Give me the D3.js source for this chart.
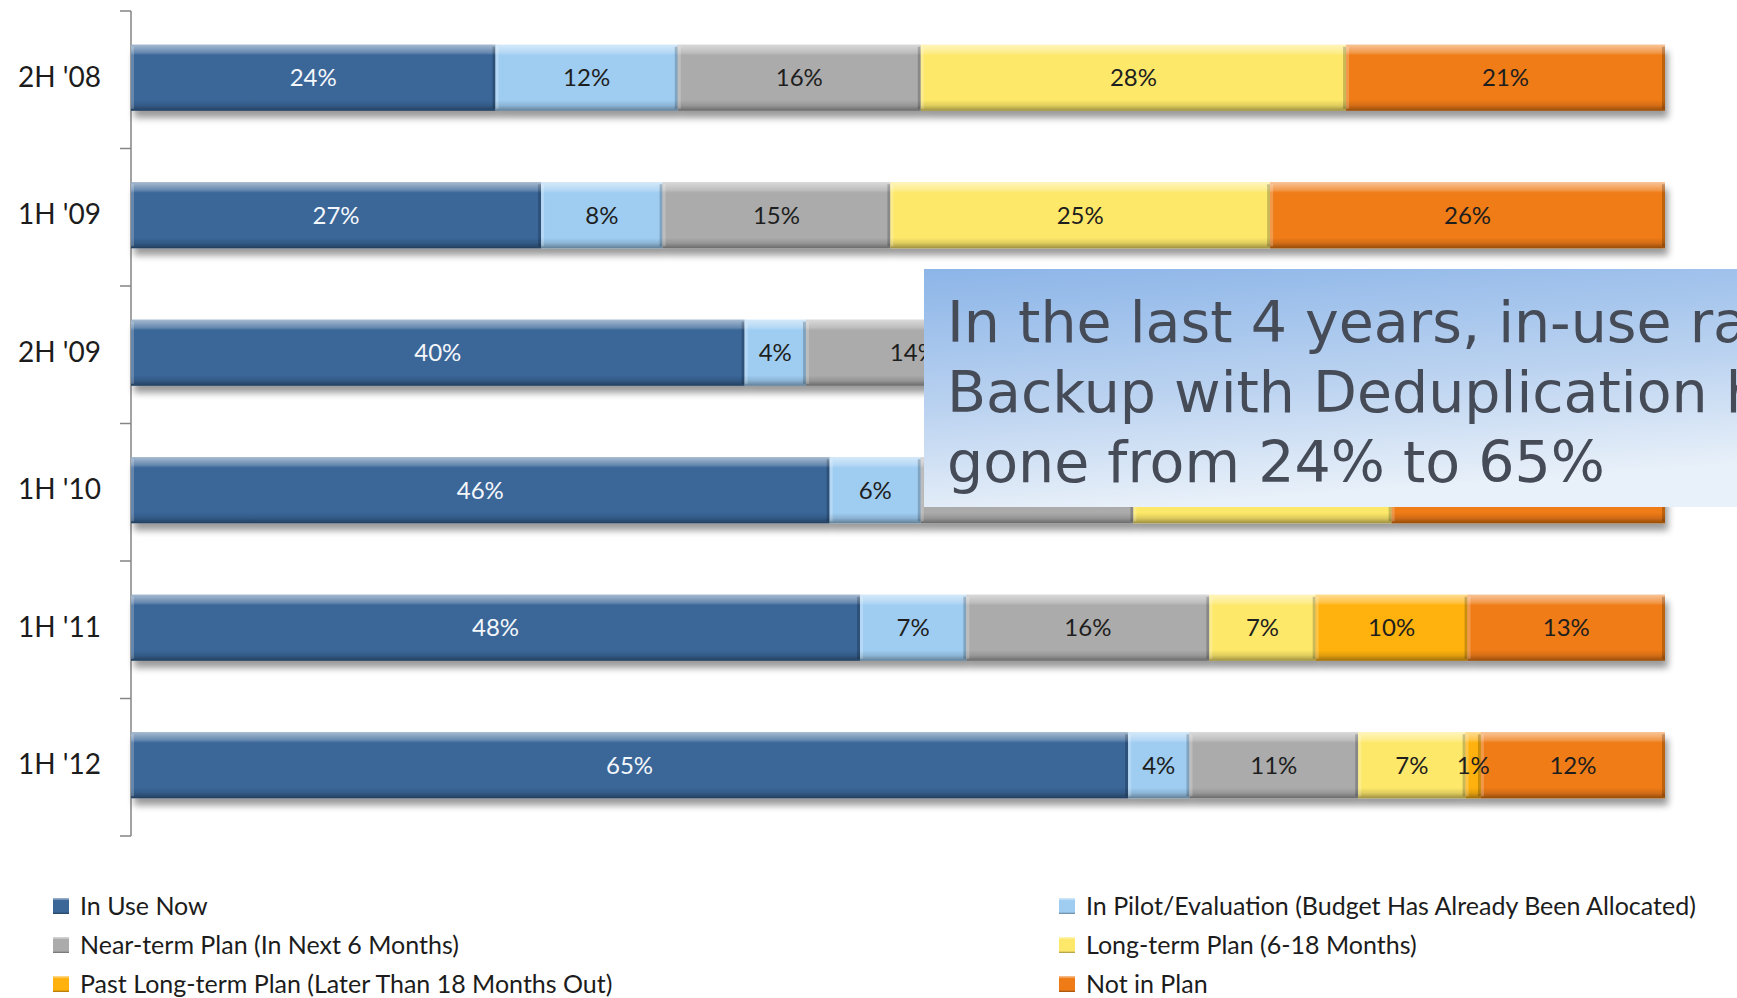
<!DOCTYPE html>
<html>
<head>
<meta charset="utf-8">
<script src="https://cdn.jsdelivr.net/npm/d3@7"></script>
<style>
  html, body { margin: 0; padding: 0; background: #ffffff; overflow: hidden; }
  svg { display: block; }
</style>
</head>
<body>
<svg id="chart" width="1737" height="998"></svg>
<script>
// Survey periods (top to bottom)
const categories = ["2H '08", "1H '09", "2H '09", "1H '10", "1H '11", "1H '12"];

// Series names, in stacking order
const seriesNames = [
  "In Use Now",
  "In Pilot/Evaluation (Budget Has Already Been Allocated)",
  "Near-term Plan (In Next 6 Months)",
  "Long-term Plan (6-18 Months)",
  "Past Long-term Plan (Later Than 18 Months Out)",
  "Not in Plan"
];

// Percent of respondents per period
const inUseNow     = [24, 27, 40, 46, 48, 65];
const inPilot      = [12,  8,  4,  6,  7,  4];
const nearTerm     = [16, 15, 14, 14, 16, 11];
const longTerm     = [28, 25, 21, 17,  7,  7];
const pastLongTerm = [ 0,  0,  0,  0, 10,  1];
const notInPlan    = [21, 26, 21, 18, 13, 12];

const seriesColors = ["#3a6698", "#9fcdf2", "#ababab", "#fde86a", "#ffb20e", "#ef7b16"];
const labelColors  = ["#f4f7fb", "#1e1e1e", "#1e1e1e", "#1e1e1e", "#1e1e1e", "#1e1e1e"];

const calloutLines = [
  "In the last 4 years, in-use rate of",
  "Backup with Deduplication has",
  "gone from 24% to 65%"
];

// ---- build table for the stack layout
const seriesValues = [inUseNow, inPilot, nearTerm, longTerm, pastLongTerm, notInPlan];
const rows = categories.map((c, i) => {
  const r = { category: c };
  seriesNames.forEach((s, k) => { r[s] = seriesValues[k][i]; });
  return r;
});

const stacked = d3.stack()
  .keys(seriesNames)
  .offset(d3.stackOffsetExpand)(rows);

const svg = d3.select("#chart");
const defs = svg.append("defs");

// soft shadow under each bar
const shadow = defs.append("filter").attr("id", "barShadow")
  .attr("x", "-5%").attr("y", "-30%").attr("width", "110%").attr("height", "180%");
shadow.append("feGaussianBlur").attr("in", "SourceAlpha").attr("stdDeviation", 3.5).attr("result", "blur");
shadow.append("feOffset").attr("in", "blur").attr("dx", 3).attr("dy", 7).attr("result", "off");
shadow.append("feComponentTransfer").attr("in", "off").attr("result", "soft")
  .append("feFuncA").attr("type", "linear").attr("slope", 0.4);
const merge = shadow.append("feMerge");
merge.append("feMergeNode").attr("in", "soft");
merge.append("feMergeNode").attr("in", "SourceGraphic");

// vertical bevel shading
const vb = defs.append("linearGradient").attr("id", "vBevel")
  .attr("x1", 0).attr("y1", 0).attr("x2", 0).attr("y2", 1);
[
  [0, "#ffffff", 0.55], [0.12, "#ffffff", 0.22], [0.16, "#ffffff", 0.0],
  [0.84, "#000000", 0.0], [0.92, "#000000", 0.12], [1, "#000000", 0.38]
].forEach(([o, c, a]) => vb.append("stop").attr("offset", o).attr("stop-color", c).attr("stop-opacity", a));

// callout background
const cg = defs.append("linearGradient").attr("id", "calloutFill")
  .attr("x1", 0).attr("y1", 0).attr("x2", 0.25).attr("y2", 1);
[[0, "#8cb5e8"], [0.55, "#bad2f0"], [1, "#e8f0f9"]]
  .forEach(([o, c]) => cg.append("stop").attr("offset", o).attr("stop-color", c));

// callout placement
const calloutBox = { x: 924, y: 269, width: 840, height: 238 };

// ---- scales
const x = d3.scaleLinear().domain([0, 1]).range([131, 1665]);
const y = d3.scaleBand().domain(categories).range([9, 834]).paddingInner(0.52).paddingOuter(0.26);

// ---- axis (category labels at band centres, tick marks between bands)
const axisG = svg.append("g").attr("transform", `translate(${x(0)},0)`);
axisG.call(d3.axisLeft(y).tickSize(0).tickPadding(30))
  .call(g => g.select(".domain").remove())
  .selectAll("text")
  .attr("font-family", "Lato, 'Open Sans', sans-serif")
  .attr("font-size", 28)
  .attr("fill", "#1c1c1c");

const bounds = d3.range(categories.length + 1).map(i => y.range()[0] + i * y.step());
axisG.append("line")
  .attr("x1", 0).attr("x2", 0)
  .attr("y1", bounds[0] + 2).attr("y2", bounds[bounds.length - 1] + 2)
  .attr("stroke", "#858585").attr("stroke-width", 1.5);
axisG.selectAll("line.tick-mark").data(bounds).join("line")
  .attr("class", "tick-mark")
  .attr("x1", -11).attr("x2", 0)
  .attr("y1", d => d + 2).attr("y2", d => d + 2)
  .attr("stroke", "#858585").attr("stroke-width", 1.5);

// ---- bars
const barRows = svg.append("g").selectAll("g.bar")
  .data(categories)
  .join("g")
  .attr("class", "bar")
  .attr("filter", "url(#barShadow)");

barRows.each(function (cat, i) {
  const g = d3.select(this);
  stacked.forEach((layer, k) => {
    const d = layer[i];
    const x0 = x(d[0]), x1 = x(d[1]);
    const w = x1 - x0;
    if (w <= 0) return;
    const top = y(cat), h = y.bandwidth();
    g.append("rect").attr("x", x0).attr("y", top).attr("width", w).attr("height", h)
      .attr("fill", seriesColors[k]);
    g.append("rect").attr("x", x0).attr("y", top).attr("width", w).attr("height", h)
      .attr("fill", "url(#vBevel)");
    // side bevels
    const edge = Math.min(3, w / 3);
    g.append("rect").attr("x", x0).attr("y", top + 2).attr("width", edge).attr("height", h - 4)
      .attr("fill", "#ffffff").attr("opacity", 0.22);
    g.append("rect").attr("x", x1 - edge).attr("y", top + 2).attr("width", edge).attr("height", h - 4)
      .attr("fill", "#000000").attr("opacity", 0.2);
  });
});

// value labels (those lying entirely under the callout are not drawn)
const labelData = [];
stacked.forEach((layer, k) => {
  layer.forEach((d, i) => {
    const v = d.data[seriesNames[k]];
    if (v <= 0) return;
    const cx = x((d[0] + d[1]) / 2);
    const cy = y(categories[i]) + y.bandwidth() / 2;
    const covered = cx - 22 > calloutBox.x &&
      cy - 12 > calloutBox.y && cy + 12 < calloutBox.y + calloutBox.height + 20;
    if (!covered) labelData.push({ k, cat: categories[i], mid: (d[0] + d[1]) / 2, v });
  });
});
svg.append("g").selectAll("text")
  .data(labelData)
  .join("text")
  .attr("x", d => x(d.mid))
  .attr("y", d => y(d.cat) + y.bandwidth() / 2)
  .attr("dy", "0.36em")
  .attr("text-anchor", "middle")
  .attr("font-family", "Lato, 'Open Sans', sans-serif")
  .attr("font-size", 24)
  .attr("fill", d => labelColors[d.k])
  .text(d => d.v + "%");

// ---- callout box
const callout = svg.append("g");
callout.append("rect")
  .attr("x", calloutBox.x).attr("y", calloutBox.y)
  .attr("width", calloutBox.width).attr("height", calloutBox.height)
  .attr("fill", "url(#calloutFill)");
callout.append("g").selectAll("text")
  .data(calloutLines)
  .join("text")
  .attr("x", 947)
  .attr("y", (d, i) => 342 + i * 70)
  .attr("font-family", "'DejaVu Sans', Verdana, sans-serif")
  .attr("font-size", 57)
  .attr("fill", "#464b58")
  .text(d => d);

// ---- legend (two columns, filled row by row)
const legendCols = [53, 1059];
const legendRows = [906, 945, 984];
const legend = svg.append("g").selectAll("g")
  .data(seriesNames)
  .join("g")
  .attr("transform", (d, i) => `translate(${legendCols[i % 2]},${legendRows[Math.floor(i / 2)]})`);
legend.append("rect")
  .attr("x", 0).attr("y", -8).attr("width", 16).attr("height", 16)
  .attr("fill", (d, i) => seriesColors[i]);
legend.append("rect")
  .attr("x", 0).attr("y", -8).attr("width", 16).attr("height", 16)
  .attr("fill", "url(#vBevel)");
legend.append("text")
  .attr("x", 27).attr("y", 0).attr("dy", "0.35em")
  .attr("font-family", "Lato, 'Open Sans', sans-serif")
  .attr("font-size", 25)
  .attr("fill", "#1c1c1c")
  .text(d => d);
</script>
</body>
</html>
